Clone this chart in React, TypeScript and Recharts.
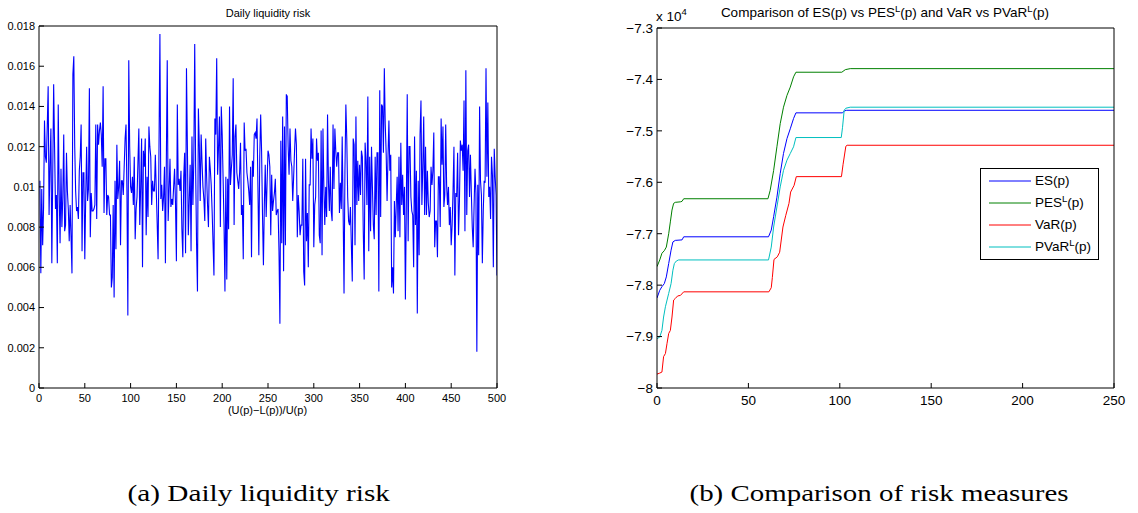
import React from 'react';
import { LineChart, Line, XAxis, YAxis, Legend } from 'recharts';

// daily liquidity risk, days 1..500
const liquidityRiskA = [
  0.0103, 0.0057, 0.0099, 0.0071, 0.0090, 0.0133, 0.0115, 0.0112, 0.0130, 0.0150,
  0.0086, 0.0111, 0.0129, 0.0062, 0.0106, 0.0151, 0.0120, 0.0089, 0.0096, 0.0062,
  0.0141, 0.0098, 0.0072, 0.0109, 0.0080, 0.0095, 0.0126, 0.0078, 0.0081, 0.0117,
  0.0098, 0.0089, 0.0073, 0.0091, 0.0075, 0.0057, 0.0156, 0.0165, 0.0120, 0.0098,
  0.0088, 0.0090, 0.0084, 0.0108, 0.0115, 0.0131, 0.0068, 0.0107, 0.0107, 0.0064,
  0.0095, 0.0120, 0.0093, 0.0099, 0.0149, 0.0075, 0.0097, 0.0088, 0.0088, 0.0089,
  0.0091, 0.0131, 0.0084, 0.0131, 0.0121, 0.0128, 0.0132, 0.0126, 0.0110, 0.0150,
  0.0087, 0.0114, 0.0114, 0.0086, 0.0096, 0.0095, 0.0086, 0.0086, 0.0050, 0.0055,
  0.0091, 0.0045, 0.0103, 0.0069, 0.0121, 0.0094, 0.0100, 0.0113, 0.0071, 0.0103,
  0.0103, 0.0096, 0.0110, 0.0124, 0.0131, 0.0098, 0.0036, 0.0163, 0.0120, 0.0100,
];
const liquidityRiskB = [
  0.0097, 0.0105, 0.0091, 0.0115, 0.0074, 0.0089, 0.0095, 0.0112, 0.0129, 0.0081,
  0.0100, 0.0124, 0.0060, 0.0118, 0.0110, 0.0124, 0.0076, 0.0105, 0.0085, 0.0130,
  0.0120, 0.0115, 0.0091, 0.0103, 0.0098, 0.0098, 0.0116, 0.0099, 0.0082, 0.0064,
  0.0120, 0.0176, 0.0094, 0.0101, 0.0088, 0.0095, 0.0110, 0.0062, 0.0112, 0.0163,
  0.0083, 0.0098, 0.0114, 0.0090, 0.0094, 0.0091, 0.0100, 0.0109, 0.0092, 0.0063,
  0.0141, 0.0101, 0.0104, 0.0098, 0.0108, 0.0079, 0.0065, 0.0105, 0.0117, 0.0067,
  0.0159, 0.0120, 0.0076, 0.0093, 0.0111, 0.0068, 0.0125, 0.0091, 0.0113, 0.0171,
  0.0110, 0.0072, 0.0048, 0.0139, 0.0121, 0.0093, 0.0126, 0.0112, 0.0100, 0.0094,
  0.0083, 0.0124, 0.0105, 0.0091, 0.0080, 0.0115, 0.0109, 0.0101, 0.0088, 0.0072,
  0.0056, 0.0134, 0.0126, 0.0164, 0.0106, 0.0120, 0.0135, 0.0080, 0.0140, 0.0126,
];
const liquidityRiskC = [
  0.0104, 0.0081, 0.0048, 0.0105, 0.0054, 0.0104, 0.0079, 0.0140, 0.0101, 0.0109,
  0.0116, 0.0154, 0.0081, 0.0125, 0.0131, 0.0107, 0.0103, 0.0099, 0.0107, 0.0122,
  0.0086, 0.0091, 0.0064, 0.0132, 0.0118, 0.0119, 0.0107, 0.0103, 0.0098, 0.0091,
  0.0110, 0.0065, 0.0113, 0.0105, 0.0126, 0.0127, 0.0124, 0.0134, 0.0100, 0.0066,
  0.0115, 0.0136, 0.0118, 0.0086, 0.0061, 0.0091, 0.0111, 0.0085, 0.0102, 0.0118,
  0.0116, 0.0110, 0.0076, 0.0106, 0.0088, 0.0093, 0.0097, 0.0104, 0.0086, 0.0088,
  0.0089, 0.0068, 0.0032, 0.0123, 0.0072, 0.0135, 0.0058, 0.0130, 0.0071, 0.0146,
  0.0145, 0.0120, 0.0106, 0.0129, 0.0113, 0.0110, 0.0093, 0.0105, 0.0118, 0.0129,
  0.0121, 0.0075, 0.0096, 0.0088, 0.0076, 0.0081, 0.0081, 0.0114, 0.0058, 0.0051,
  0.0114, 0.0073, 0.0087, 0.0060, 0.0101, 0.0101, 0.0129, 0.0114, 0.0124, 0.0070,
];
const liquidityRiskD = [
  0.0091, 0.0095, 0.0124, 0.0113, 0.0117, 0.0076, 0.0072, 0.0128, 0.0066, 0.0129,
  0.0100, 0.0081, 0.0100, 0.0085, 0.0136, 0.0102, 0.0088, 0.0110, 0.0088, 0.0083,
  0.0131, 0.0099, 0.0129, 0.0118, 0.0110, 0.0117, 0.0117, 0.0087, 0.0102, 0.0089,
  0.0125, 0.0089, 0.0047, 0.0108, 0.0141, 0.0124, 0.0095, 0.0083, 0.0081, 0.0090,
  0.0071, 0.0053, 0.0124, 0.0121, 0.0071, 0.0135, 0.0091, 0.0113, 0.0093, 0.0111,
  0.0096, 0.0118, 0.0115, 0.0078, 0.0054, 0.0122, 0.0113, 0.0091, 0.0145, 0.0068,
  0.0115, 0.0078, 0.0120, 0.0100, 0.0081, 0.0074, 0.0115, 0.0086, 0.0117, 0.0117,
  0.0048, 0.0148, 0.0085, 0.0141, 0.0140, 0.0117, 0.0159, 0.0131, 0.0117, 0.0093,
  0.0115, 0.0133, 0.0108, 0.0116, 0.0050, 0.0060, 0.0047, 0.0093, 0.0075, 0.0091,
  0.0105, 0.0078, 0.0115, 0.0075, 0.0122, 0.0091, 0.0106, 0.0086, 0.0100, 0.0044,
];
const liquidityRiskE = [
  0.0090, 0.0146, 0.0073, 0.0120, 0.0120, 0.0095, 0.0088, 0.0086, 0.0060, 0.0125,
  0.0081, 0.0108, 0.0037, 0.0103, 0.0066, 0.0126, 0.0143, 0.0091, 0.0110, 0.0135,
  0.0086, 0.0120, 0.0086, 0.0108, 0.0092, 0.0085, 0.0088, 0.0110, 0.0101, 0.0108,
  0.0127, 0.0070, 0.0083, 0.0083, 0.0065, 0.0105, 0.0105, 0.0080, 0.0134, 0.0111,
  0.0130, 0.0090, 0.0096, 0.0131, 0.0101, 0.0091, 0.0100, 0.0081, 0.0090, 0.0071,
  0.0081, 0.0098, 0.0120, 0.0056, 0.0097, 0.0095, 0.0117, 0.0076, 0.0093, 0.0123,
  0.0118, 0.0121, 0.0108, 0.0143, 0.0078, 0.0158, 0.0086, 0.0118, 0.0121, 0.0095,
  0.0116, 0.0097, 0.0080, 0.0070, 0.0091, 0.0109, 0.0097, 0.0018, 0.0101, 0.0066,
  0.0140, 0.0103, 0.0096, 0.0062, 0.0088, 0.0103, 0.0102, 0.0159, 0.0105, 0.0142,
  0.0095, 0.0100, 0.0084, 0.0115, 0.0106, 0.0060, 0.0119, 0.0105, 0.0096, 0.0056,
];

const dayTicks = [0, 50, 100, 150, 200, 250, 300, 350, 400, 450, 500];
const riskTicks = [0, 0.002, 0.004, 0.006, 0.008, 0.01, 0.012, 0.014, 0.016, 0.018];

// risk measures vs p, as [p, value] breakpoints
const esCurve: [number, number][] = [
  [0, -78250], [1.5, -78100], [2.7, -78030], [4, -77970], [5.1, -77840], [6.4, -77580],
  [7.7, -77320], [8.7, -77160], [10, -77130], [13.7, -77120], [14.6, -77060], [61, -77060],
  [62.5, -76930], [63.8, -76670], [65.6, -76290], [67.4, -75830], [69.2, -75440], [71.1, -75150],
  [72.9, -74960], [74.7, -74760], [76, -74650], [101.5, -74650], [102.6, -74610], [103.8, -74600],
  [250, -74600],
];
const pesCurve: [number, number][] = [
  [0, -77640], [1.5, -77510], [2.7, -77380], [4, -77330], [5.1, -77260], [6.4, -77000],
  [7.3, -76770], [8.2, -76540], [9.1, -76410], [10, -76390], [12.8, -76380], [13.7, -76370],
  [14.6, -76320], [60.7, -76320], [61.9, -76160], [63.8, -75770], [65.6, -75310], [67.4, -74860],
  [69.2, -74540], [71.1, -74310], [72.9, -74150], [74.7, -73950], [76, -73860], [101.1, -73860],
  [103, -73810], [105.7, -73790], [250, -73790],
];
const varCurve: [number, number][] = [
  [0, -79730], [1.5, -79710], [2.7, -79690], [3.6, -79390], [4.6, -79330], [5.5, -79130],
  [6.4, -78940], [7.3, -78880], [8.2, -78620], [9.1, -78290], [10, -78260], [11.3, -78210],
  [12.8, -78200], [14.6, -78130], [61.2, -78130], [62.5, -78050], [63.1, -77850], [64, -77500],
  [65.8, -77450], [67.1, -77360], [68.9, -76870], [70.4, -76650], [72.2, -76410], [73.1, -76190],
  [75, -76060], [76.2, -75890], [100.9, -75890], [101.8, -75650], [103.3, -75300], [104, -75280],
  [250, -75280],
];
const pvarCurve: [number, number][] = [
  [0, -79040], [1.5, -79010], [2.7, -78880], [3.6, -78620], [4.6, -78420], [5.5, -78290],
  [6.4, -78160], [7.7, -77970], [8.7, -77710], [9.5, -77580], [10.6, -77530], [11.8, -77510],
  [61, -77510], [62.5, -77260], [63.8, -76870], [65.6, -76480], [67.4, -76090], [69.2, -75770],
  [71.1, -75570], [72.9, -75440], [74.7, -75310], [76, -75130], [100.8, -75130], [101.5, -74930],
  [102.4, -74600], [103.3, -74560], [105.7, -74540], [250, -74540],
];

const pTicks = [0, 50, 100, 150, 200, 250];
const measureTicks = [-80000, -79000, -78000, -77000, -76000, -75000, -74000, -73000];
const legendOrder = ['ES(p)', 'PES^L(p)', 'VaR(p)', 'PVaR^L(p)'];

const riskData = [...liquidityRiskA, ...liquidityRiskB, ...liquidityRiskC, ...liquidityRiskD, ...liquidityRiskE]
  .map((risk, i) => ({ day: i + 1, risk }));
const toPoints = (curve: [number, number][]) => curve.map(([p, value]) => ({ p, value }));

const sans = '"Liberation Sans", Arial, Helvetica, sans-serif';
const serif = '"Liberation Serif", "Times New Roman", serif';
const black = { stroke: '#000' };

const riskLabel = (v: number) => String(Number(v.toFixed(3)));
const measureLabel = (v: number) => '\u2212' + Math.abs(v / 10000).toFixed(1).replace(/\.0$/, '');

const withSup = (name: string) => {
  const [head, tail] = name.split('^L');
  if (tail === undefined) return name;
  return (
    <>
      {head}
      <sup style={{ fontSize: 9.5, lineHeight: 0, verticalAlign: 5 }}>L</sup>
      {tail}
    </>
  );
};

const renderLegend = (props: any) => {
  // keep the plotting order, not the alphabetical one
  const items = [...(props.payload || [])].sort(
    (a: any, b: any) => legendOrder.indexOf(a.value) - legendOrder.indexOf(b.value)
  );
  return (
    <div
      style={{
        width: 117, height: 89, paddingTop: 1, border: '1px solid #000', background: '#fff',
        fontFamily: sans, fontSize: 13.5, color: '#000',
      }}
    >
      {items.map((entry: any) => (
        <div key={entry.value} style={{ display: 'flex', alignItems: 'center', height: 21.9 }}>
          <svg width={51} height={10} style={{ flex: 'none' }}>
            <line x1={8} y1={5} x2={50} y2={5} stroke={entry.color} strokeWidth={1} />
          </svg>
          <span style={{ marginLeft: 3, whiteSpace: 'nowrap' }}>{withSup(entry.value)}</span>
        </div>
      ))}
    </div>
  );
};

const LiquidityChart = () => (
  <LineChart width={510} height={420} data={riskData} margin={{ top: 25, right: 12, bottom: 12, left: 0 }}>
    <XAxis
      dataKey="day" type="number" domain={[0, 500]} ticks={dayTicks} allowDataOverflow
      height={20} tickSize={-5} tickMargin={11} axisLine={black} tickLine={black}
      tick={{ fill: '#000', fontSize: 11, fontFamily: sans }}
    />
    <XAxis
      xAxisId="top" orientation="top" type="number" domain={[0, 500]} ticks={dayTicks} allowDataOverflow
      height={1} tickSize={-5} axisLine={black} tickLine={black} tick={false}
    />
    <YAxis
      type="number" domain={[0, 0.018]} ticks={riskTicks} allowDataOverflow width={39}
      tickSize={-5} tickMargin={9} axisLine={black} tickLine={black} tickFormatter={riskLabel}
      tick={{ fill: '#000', fontSize: 11, fontFamily: sans }}
    />
    <YAxis
      yAxisId="right" orientation="right" type="number" domain={[0, 0.018]} ticks={riskTicks} allowDataOverflow
      width={1} tickSize={-5} axisLine={black} tickLine={black} tick={false}
    />
    <Line type="linear" dataKey="risk" stroke="#0000ff" strokeWidth={1.1} dot={false} isAnimationActive={false} />
  </LineChart>
);

const MeasuresChart = () => (
  <LineChart width={530} height={420} margin={{ top: 27, right: 15, bottom: 12, left: 0 }}>
    <XAxis
      dataKey="p" type="number" domain={[0, 250]} ticks={pTicks} allowDataOverflow
      height={20} tickSize={-5} tickMargin={12} axisLine={black} tickLine={black}
      tick={{ fill: '#000', fontSize: 13.5, fontFamily: sans }}
    />
    <XAxis
      xAxisId="top" orientation="top" type="number" domain={[0, 250]} ticks={pTicks} allowDataOverflow
      height={1} tickSize={-5} axisLine={black} tickLine={black} tick={false}
    />
    <YAxis
      type="number" domain={[-80000, -73000]} ticks={measureTicks} allowDataOverflow width={57}
      tickSize={-5} tickMargin={9} axisLine={black} tickLine={black} tickFormatter={measureLabel}
      tick={{ fill: '#000', fontSize: 13.5, fontFamily: sans }}
    />
    <YAxis
      yAxisId="right" orientation="right" type="number" domain={[-80000, -73000]} ticks={measureTicks}
      allowDataOverflow width={1} tickSize={-5} axisLine={black} tickLine={black} tick={false}
    />
    <Line data={toPoints(esCurve)} dataKey="value" name="ES(p)" stroke="#0000ff" strokeWidth={1} dot={false} isAnimationActive={false} />
    <Line data={toPoints(pesCurve)} dataKey="value" name="PES^L(p)" stroke="#008000" strokeWidth={1} dot={false} isAnimationActive={false} />
    <Line data={toPoints(varCurve)} dataKey="value" name="VaR(p)" stroke="#ff0000" strokeWidth={1} dot={false} isAnimationActive={false} />
    <Line data={toPoints(pvarCurve)} dataKey="value" name="PVaR^L(p)" stroke="#00bfbf" strokeWidth={1} dot={false} isAnimationActive={false} />
    <Legend
      layout="vertical" align="center" verticalAlign="middle" content={renderLegend}
      wrapperStyle={{ left: 380, top: 168, width: 119, height: 92 }}
    />
  </LineChart>
);

export default function App() {
  return (
    <div style={{ position: 'absolute', left: 0, top: 0, width: 1138, height: 513, background: '#fff', overflow: 'hidden' }}>
      <div style={{ position: 'absolute', left: 0, top: 0 }}>
        <LiquidityChart />
      </div>
      <div style={{ position: 'absolute', left: 600, top: 0 }}>
        <MeasuresChart />
      </div>
      <svg width={1138} height={513} style={{ position: 'absolute', left: 0, top: 0, pointerEvents: 'none' }}>
        <g fontFamily={sans} fill="#000">
          <text x={268} y={17} fontSize={11} textAnchor="middle">Daily liquidity risk</text>
          <text x={267.5} y={414} fontSize={11} textAnchor="middle">(U(p)−L(p))/U(p)</text>
          <text x={885} y={16.5} fontSize={13.5} textAnchor="middle">
            Comparison of ES(p) vs PES<tspan fontSize={9.5} dy={-5}>L</tspan>
            <tspan dy={5}>(p) and VaR vs PVaR</tspan>
            <tspan fontSize={9.5} dy={-5}>L</tspan>
            <tspan dy={5}>(p)</tspan>
          </text>
          <text x={656} y={20.5} fontSize={13.5}>
            x 10<tspan fontSize={9.5} dy={-6}>4</tspan>
          </text>
        </g>
        <g fontFamily={serif} fill="#000" fontSize={23}>
          <text x={127.6} y={501} textLength={262.4} lengthAdjust="spacingAndGlyphs">(a) Daily liquidity risk</text>
          <text x={689.5} y={501} textLength={379} lengthAdjust="spacingAndGlyphs">(b) Comparison of risk measures</text>
        </g>
      </svg>
    </div>
  );
}
